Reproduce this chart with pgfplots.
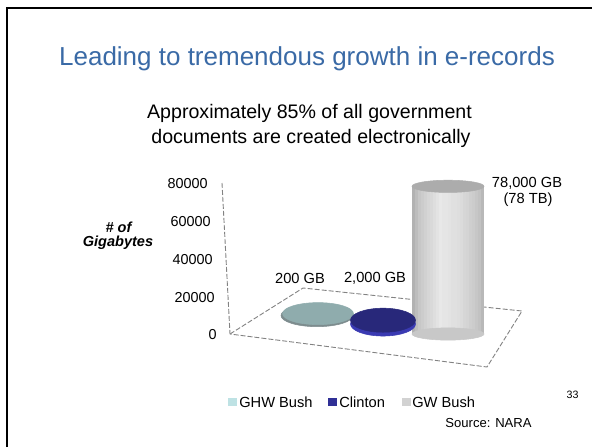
\documentclass[border=0pt]{standalone}
\usepackage{fontspec}
\setmainfont{Liberation Sans}
\usepackage{pgfplots}
\pgfplotsset{compat=1.18}

\newlength{\px}\setlength{\px}{0.75pt}

\definecolor{titleblue}{RGB}{58,106,166}
\definecolor{ghwtop}{RGB}{143,172,173}
\definecolor{ghwrim}{RGB}{125,140,142}
\definecolor{cltop}{RGB}{40,40,122}
\definecolor{clside}{RGB}{58,58,178}
\definecolor{gwtop}{RGB}{172,172,172}
\definecolor{gwbot}{RGB}{200,200,200}
\definecolor{legghw}{RGB}{190,226,228}
\definecolor{legcl}{RGB}{48,48,150}
\definecolor{leggw}{RGB}{210,210,210}
\definecolor{floorgray}{RGB}{130,130,130}

\pgfplotsset{
  % one vertical strip of the big cylinder: #1 = offset in px, #2 = % white
  gwstrip/.style 2 args={line width=3.3\px, line cap=butt, color=white!#2!black,
    xshift=#1\px, forget plot},
}

\begin{document}
\begin{tikzpicture}
\useasboundingbox (0,0) rectangle (592\px,-447\px);

% slide frame
\draw[line width=2.4\px, line join=miter] (7\px,-447\px) -- (7\px,-8\px) -- (592\px,-8\px);

\node[anchor=base, text=titleblue, font=\fontsize{19.5}{23}\selectfont]
  at (307\px,-65\px) {Leading to tremendous growth in e-records};
\node[anchor=base, font=\fontsize{14.7}{17}\selectfont]
  at (309.5\px,-118\px) {Approximately 85\% of all government};
\node[anchor=base, font=\fontsize{14.7}{17}\selectfont]
  at (311\px,-143\px) {documents are created electronically};

% 3d floor and wall edge
\draw[floorgray, dash pattern=on 5\px off 2\px, line width=0.9\px]
  (222\px,-183\px) -- (230\px,-334\px);
\draw[floorgray, dash pattern=on 5\px off 2\px, line width=0.9\px]
  (230\px,-334\px) -- (303\px,-288\px) -- (522\px,-311\px) -- (487\px,-367\px) -- cycle;

\begin{axis}[
    anchor=origin, at={(253\px,-304\px)},
    x={(65\px,-10\px)}, y={(0pt,0.001425pt)},
    xmin=0, xmax=4, ymin=0, ymax=80000,
    clip=false,
    axis line style={draw=none},
    xtick=\empty,
    scaled y ticks=false,
    ytick={0,20000,40000,60000,80000},
    yticklabels={0,20000\kern2\px,40000\kern4\px,60000\kern6\px,80000\kern9\px},
    major tick length=0pt,
    yticklabel style={anchor=east, inner sep=0pt, xshift=-36\px, yshift=-31\px,
      font=\fontsize{10.8}{12}\selectfont},
]
% GHW Bush: 200 GB
\addplot[only marks, mark=*, mark size=36\px,
  mark options={xshift=-1\px, yshift=-1.5\px, yscale=0.31, color=ghwrim},
  forget plot] coordinates {(1,0)};
\addplot[line width=71\px, line cap=butt, color=ghwtop, forget plot]
  coordinates {(1,0) (1,200)};
\addplot[only marks, mark=*, mark size=35.5\px,
  mark options={yscale=0.31, color=ghwtop}, forget plot]
  coordinates {(1,200)};
% Clinton: 2,000 GB
\addplot[only marks, mark=*, mark size=32.5\px,
  mark options={yscale=0.37, color=clside}, forget plot]
  coordinates {(2,0)};
\addplot[line width=65\px, line cap=butt, color=clside, forget plot]
  coordinates {(2,0) (2,2000)};
\addplot[only marks, mark=*, mark size=32.5\px,
  mark options={yscale=0.37, color=cltop}, forget plot]
  coordinates {(2,2000)};
% GW Bush: 78,000 GB
\addplot[only marks, mark=*, mark size=36\px,
  mark options={yscale=0.17, color=gwbot}, forget plot]
  coordinates {(3,0)};
\addplot[gwstrip={-34.5}{70}] coordinates {(3,0) (3,78000)};
\addplot[gwstrip={-31.5}{74}] coordinates {(3,0) (3,78000)};
\addplot[gwstrip={-28.5}{78}] coordinates {(3,0) (3,78000)};
\addplot[gwstrip={-25.5}{80}] coordinates {(3,0) (3,78000)};
\addplot[gwstrip={-22.5}{82}] coordinates {(3,0) (3,78000)};
\addplot[gwstrip={-19.5}{84}] coordinates {(3,0) (3,78000)};
\addplot[gwstrip={-16.5}{85}] coordinates {(3,0) (3,78000)};
\addplot[gwstrip={-13.5}{87}] coordinates {(3,0) (3,78000)};
\addplot[gwstrip={-10.5}{89}] coordinates {(3,0) (3,78000)};
\addplot[gwstrip={-7.5}{91}] coordinates {(3,0) (3,78000)};
\addplot[gwstrip={-4.5}{90}] coordinates {(3,0) (3,78000)};
\addplot[gwstrip={-1.5}{90}] coordinates {(3,0) (3,78000)};
\addplot[gwstrip={1.5}{89}] coordinates {(3,0) (3,78000)};
\addplot[gwstrip={4.5}{88}] coordinates {(3,0) (3,78000)};
\addplot[gwstrip={7.5}{88}] coordinates {(3,0) (3,78000)};
\addplot[gwstrip={10.5}{87}] coordinates {(3,0) (3,78000)};
\addplot[gwstrip={13.5}{86}] coordinates {(3,0) (3,78000)};
\addplot[gwstrip={16.5}{84}] coordinates {(3,0) (3,78000)};
\addplot[gwstrip={19.5}{83}] coordinates {(3,0) (3,78000)};
\addplot[gwstrip={22.5}{81}] coordinates {(3,0) (3,78000)};
\addplot[gwstrip={25.5}{80}] coordinates {(3,0) (3,78000)};
\addplot[gwstrip={28.5}{78}] coordinates {(3,0) (3,78000)};
\addplot[gwstrip={31.5}{76}] coordinates {(3,0) (3,78000)};
\addplot[gwstrip={34.5}{72}] coordinates {(3,0) (3,78000)};
\addplot[only marks, mark=*, mark size=36\px,
  mark options={yscale=0.17, color=gwtop}, forget plot]
  coordinates {(3,78000)};
\end{axis}

% legend
\fill[legghw] (228\px,-398\px) rectangle (236.5\px,-406\px);
\node[anchor=west, inner sep=0pt, font=\fontsize{11}{13}\selectfont] at (239\px,-402\px) {GHW Bush};
\fill[legcl] (328\px,-398\px) rectangle (336.5\px,-406\px);
\node[anchor=west, inner sep=0pt, font=\fontsize{11}{13}\selectfont] at (339\px,-402\px) {Clinton};
\fill[leggw] (402\px,-398\px) rectangle (410.5\px,-406\px);
\node[anchor=west, inner sep=0pt, font=\fontsize{11}{13}\selectfont] at (412\px,-402\px) {GW Bush};

\node[font=\fontsize{11}{13}\selectfont] at (300\px,-278\px) {200 GB};
\node[font=\fontsize{11}{13}\selectfont] at (375\px,-278\px) {2,000 GB};
\node[font=\fontsize{11}{13}\selectfont] at (527\px,-183\px) {78,000 GB};
\node[font=\fontsize{11}{13}\selectfont] at (528\px,-200\px) {(78 TB)};

\node[font=\fontsize{10.9}{12}\selectfont\bfseries\itshape] at (118.5\px,-227\px) {\# of};
\node[font=\fontsize{10.9}{12}\selectfont\bfseries\itshape] at (118\px,-243\px) {Gigabytes};

\node[font=\fontsize{8}{9}\selectfont] at (572.5\px,-395\px) {33};
\node[font=\fontsize{9.8}{11}\selectfont] at (488.5\px,-423\px) {Source: NARA};
\end{tikzpicture}
\end{document}
